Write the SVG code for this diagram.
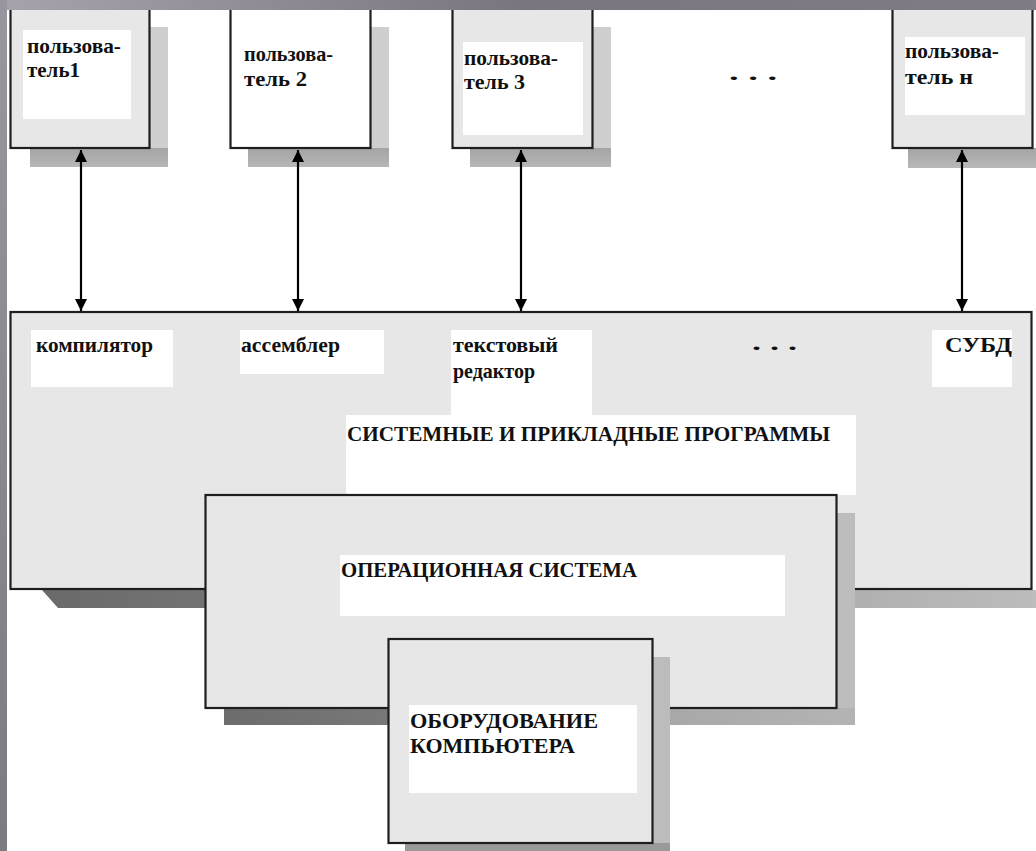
<svg xmlns="http://www.w3.org/2000/svg" width="1036" height="851" viewBox="0 0 1036 851">
<style>
.box{fill:#e7e7e7;stroke:#1e1e1e;stroke-width:2.2}
.wbox{fill:#ffffff;stroke:#1e1e1e;stroke-width:2.2}
.lab{fill:#ffffff}
.t{font-family:"Liberation Serif","Times New Roman",serif;font-weight:bold;font-size:21px;fill:#111}
.conn{stroke:#000;stroke-width:2.2;fill:none}
</style>
<defs>
<marker id="ah" viewBox="0 0 12 16" refX="12" refY="6" markerWidth="12" markerHeight="16" markerUnits="userSpaceOnUse" orient="auto-start-reverse">
<path d="M0,0 L12,6 L0,12 z" fill="#000"/>
</marker>
<linearGradient id="gTop" x1="0" y1="0" x2="1" y2="0">
<stop offset="0" stop-color="#a7a3ad"/>
<stop offset="0.5" stop-color="#7a767f"/>
<stop offset="1" stop-color="#807c86"/>
</linearGradient>
<linearGradient id="gLeft" x1="0" y1="0" x2="0" y2="1">
<stop offset="0" stop-color="#9a96a0"/>
<stop offset="1" stop-color="#7e7a84"/>
</linearGradient>
<linearGradient id="gMainSh" gradientUnits="userSpaceOnUse" x1="40" y1="0" x2="1036" y2="0">
<stop offset="0" stop-color="#6a6a6a"/>
<stop offset="0.2" stop-color="#757575"/>
<stop offset="0.82" stop-color="#b0b0b0"/>
<stop offset="1" stop-color="#bcbcbc"/>
</linearGradient>
<linearGradient id="gOsSh" gradientUnits="userSpaceOnUse" x1="224" y1="0" x2="855" y2="0">
<stop offset="0" stop-color="#6c6c6c"/>
<stop offset="0.3" stop-color="#7a7a7a"/>
<stop offset="0.7" stop-color="#a8a8a8"/>
<stop offset="1" stop-color="#b4b4b4"/>
</linearGradient>
<linearGradient id="gUSh" gradientUnits="userSpaceOnUse" x1="0" y1="148" x2="0" y2="168">
<stop offset="0" stop-color="#a4a4a4"/>
<stop offset="1" stop-color="#b8b8b8"/>
</linearGradient>
</defs>

<rect x="0" y="0" width="1036" height="851" fill="#ffffff"/>

<!-- main programs box -->
<g id="programs">
<path d="M42,590 L1036,590 L1036,608 L58,608 Z" fill="url(#gMainSh)"/>
<rect class="box" x="10.5" y="312" width="1021" height="277"/>
<rect class="lab" x="31" y="330" width="142" height="57"/>
<text class="t" x="36" y="352" textLength="117" lengthAdjust="spacingAndGlyphs">компилятор</text>
<rect class="lab" x="240" y="330" width="144" height="44"/>
<text class="t" x="241" y="352" textLength="99" lengthAdjust="spacingAndGlyphs">ассемблер</text>
<rect class="lab" x="451" y="330" width="141" height="90"/>
<text class="t" x="453" y="352" textLength="105" lengthAdjust="spacingAndGlyphs">текстовый</text>
<text class="t" x="453" y="378" textLength="82" lengthAdjust="spacingAndGlyphs">редактор</text>
<text class="t" x="752" y="350" textLength="45" lengthAdjust="spacingAndGlyphs">. . .</text>
<rect class="lab" x="932" y="330" width="80" height="57"/>
<text class="t" x="945" y="352" textLength="67" lengthAdjust="spacingAndGlyphs">СУБД</text>
<rect class="lab" x="346" y="415" width="510" height="80"/>
<text class="t" x="347" y="441" textLength="483" lengthAdjust="spacingAndGlyphs">СИСТЕМНЫЕ И ПРИКЛАДНЫЕ ПРОГРАММЫ</text>
</g>

<!-- operating system box -->
<g id="os">
<rect x="837" y="513" width="18" height="212" fill="#bdbdbd"/>
<rect x="224" y="708" width="631" height="17" fill="url(#gOsSh)"/>
<rect class="box" x="205.5" y="495" width="631" height="213"/>
<rect class="lab" x="340" y="555" width="445" height="61"/>
<text class="t" x="341" y="577" textLength="296" lengthAdjust="spacingAndGlyphs">ОПЕРАЦИОННАЯ СИСТЕМА</text>
</g>

<!-- hardware box -->
<g id="hardware">
<rect x="653" y="657" width="17" height="194" fill="#bcbcbc"/>
<rect x="405" y="843" width="265" height="8" fill="#9a9a9a"/>
<rect class="box" x="388.5" y="639" width="264" height="204"/>
<rect class="lab" x="409" y="705" width="228" height="88"/>
<text class="t" x="410" y="728" textLength="188" lengthAdjust="spacingAndGlyphs">ОБОРУДОВАНИЕ</text>
<text class="t" x="410" y="753" textLength="165" lengthAdjust="spacingAndGlyphs">КОМПЬЮТЕРА</text>
</g>

<!-- users -->
<g id="user1">
<rect x="150" y="27" width="18" height="140" fill="#cfcfcf"/>
<rect x="30" y="148" width="138" height="19" fill="url(#gUSh)"/>
<rect class="box" x="10.5" y="2" width="139" height="146"/>
<rect class="lab" x="23" y="30" width="108" height="89"/>
<text class="t" x="27" y="53" textLength="94" lengthAdjust="spacingAndGlyphs">пользова-</text>
<text class="t" x="27" y="77" textLength="53" lengthAdjust="spacingAndGlyphs">тель1</text>
</g>
<g id="user2">
<rect x="371" y="27" width="18" height="140" fill="#cfcfcf"/>
<rect x="248" y="148" width="141" height="19" fill="url(#gUSh)"/>
<rect class="wbox" x="230.5" y="2" width="140" height="146"/>
<text class="t" x="244" y="61" textLength="89" lengthAdjust="spacingAndGlyphs">пользова-</text>
<text class="t" x="244" y="86" textLength="63" lengthAdjust="spacingAndGlyphs">тель 2</text>
</g>
<g id="user3">
<rect x="593" y="27" width="18" height="140" fill="#cfcfcf"/>
<rect x="470" y="148" width="141" height="19" fill="url(#gUSh)"/>
<rect class="box" x="452.5" y="2" width="140" height="146"/>
<rect class="lab" x="463" y="42" width="120" height="93"/>
<text class="t" x="464" y="65" textLength="94" lengthAdjust="spacingAndGlyphs">пользова-</text>
<text class="t" x="464" y="89" textLength="61" lengthAdjust="spacingAndGlyphs">тель 3</text>
</g>
<text class="t" x="729" y="80" textLength="48" lengthAdjust="spacingAndGlyphs">. . .</text>
<g id="usern">
<rect x="908" y="148" width="128" height="20" fill="url(#gUSh)"/>
<rect class="box" x="892.5" y="2" width="140" height="146"/>
<rect class="lab" x="905" y="37" width="120" height="78"/>
<text class="t" x="905" y="58" textLength="94" lengthAdjust="spacingAndGlyphs">пользова-</text>
<text class="t" x="905" y="84" textLength="68" lengthAdjust="spacingAndGlyphs">тель н</text>
</g>

<!-- connectors -->
<g id="connectors">
<line class="conn" x1="81" y1="150" x2="81" y2="311" marker-start="url(#ah)" marker-end="url(#ah)"/>
<line class="conn" x1="298" y1="150" x2="298" y2="311" marker-start="url(#ah)" marker-end="url(#ah)"/>
<line class="conn" x1="521" y1="150" x2="521" y2="311" marker-start="url(#ah)" marker-end="url(#ah)"/>
<line class="conn" x1="962" y1="150" x2="962" y2="311" marker-start="url(#ah)" marker-end="url(#ah)"/>
</g>

<!-- slide frame -->
<rect x="0" y="0" width="1036" height="10" fill="url(#gTop)"/>
<rect x="0" y="0" width="7" height="851" fill="url(#gLeft)"/>
</svg>
